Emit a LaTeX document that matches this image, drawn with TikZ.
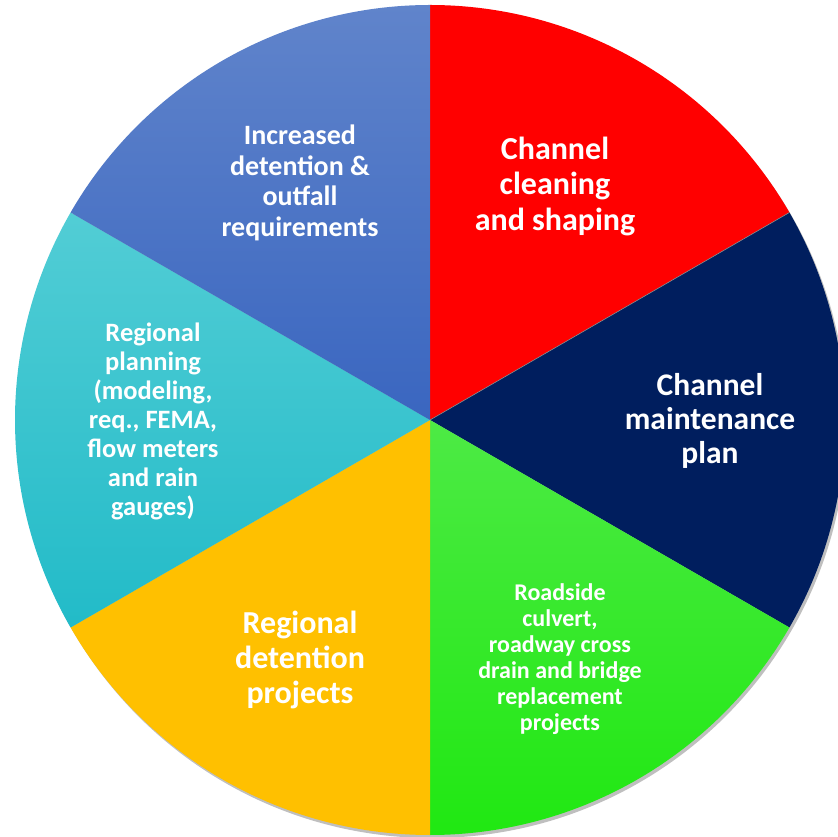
\documentclass[tikz,border=0pt]{standalone}
\usepackage{fontspec}
\setmainfont{Carlito}
\definecolor{cleanRed}{HTML}{FF0000}
\definecolor{maintBlue}{HTML}{001E5E}
\definecolor{detYellow}{HTML}{FFC000}
\tikzset{lbl/.style={text=white, align=center, inner sep=0pt}}
\newcommand{\R}{415}

\begin{document}
\begin{tikzpicture}[x=1pt,y=1pt]
   \useasboundingbox (-430,-417) rectangle (408,420);
   \clip (-430,-417) rectangle (408,420);
   % soft shadow
   \fill [black!25] (2,-3) circle (\R);
   % slices
   \fill [cleanRed] (0,0) -- (30:\R) arc (30:90:\R) -- cycle;
   \fill [maintBlue] (0,0) -- (-30:\R) arc (-30:30:\R) -- cycle;
   \shade [top color={rgb,255:red,77;green,234;blue,69}, bottom color={rgb,255:red,32;green,232;blue,18}]
      (0,0) -- (-90:\R) arc (-90:-30:\R) -- cycle;
   \fill [detYellow] (0,0) -- (210:\R) arc (210:270:\R) -- cycle;
   \shade [top color={rgb,255:red,82;green,205;blue,213}, bottom color={rgb,255:red,34;green,187;blue,200}]
      (0,0) -- (150:\R) arc (150:210:\R) -- cycle;
   \shade [top color={rgb,255:red,96;green,132;blue,203}, bottom color={rgb,255:red,58;green,102;blue,192}]
      (0,0) -- (90:\R) arc (90:150:\R) -- cycle;
   \draw [black!45, line width=0.6pt] (0,0) -- (30:\R);
   % labels
   \node [lbl, font=\bfseries\fontsize{32}{35.5}\selectfont] (CL) at (125,234) {Channel\\cleaning\\and shaping};
   \node [lbl, font=\bfseries\fontsize{31.5}{34}\selectfont] (MP) at (280,-1) {Channel\\maintenance\\plan};
   \node [lbl, font=\bfseries\fontsize{24}{26}\selectfont] (RC) at (130,-239) {Roadside\\culvert,\\roadway cross\\drain and bridge\\replacement\\projects};
   \node [lbl, font=\bfseries\fontsize{32}{35}\selectfont] (RD) at (-130,-240) {Regional\\detention\\projects};
   \node [lbl, font=\bfseries\fontsize{26.5}{29}\selectfont] (RP) at (-277,-1) {Regional\\planning\\(modeling,\\req., FEMA,\\flow meters\\and rain\\gauges)};
   \node [lbl, font=\bfseries\fontsize{28}{30.7}\selectfont] (ID) at (-130,237) {Increased\\detention \&\\outfall\\requirements};
\end{tikzpicture}
\end{document}
